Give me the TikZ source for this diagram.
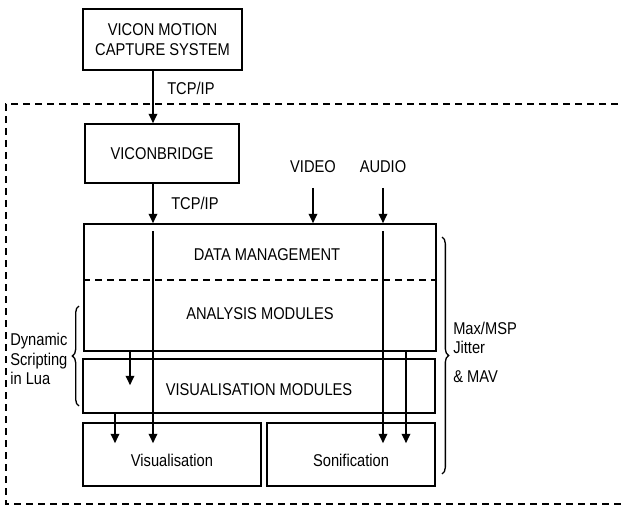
\documentclass[tikz,border=0pt]{standalone}
\usepackage{fontspec}
\setmainfont{Liberation Sans}[FakeStretch=0.86]
\usetikzlibrary{calc,arrows.meta,positioning,decorations.pathreplacing}

\tikzset{
  box/.style={draw,line width=1.3pt,inner sep=0pt,align=center},
  arr/.style={-{Triangle[length=7pt,width=6.5pt]},line width=1pt},
  txt/.style={inner sep=0pt,align=left},
  brc/.style={decorate,decoration={brace,amplitude=5pt},line width=1pt},
  dashline/.style={line width=1pt,dash pattern=on 5.5pt off 3.5pt},
}

\begin{document}
\begin{tikzpicture}[x=0.75pt,y=-0.75pt,font=\fontsize{12.8}{14.5}\selectfont]
    \useasboundingbox (0,0) rectangle (621,506);
    % outer (Max/MSP) frame, open to the right
    \draw[dashline] (630,104) -- (6,104) -- (6,504) -- (630,504);
    % boxes
    \node[box,minimum width=159*0.75pt,minimum height=61*0.75pt] (vicon) at (162.5,39.5)
       {VICON MOTION\\CAPTURE SYSTEM};
    \node[box,minimum width=154*0.75pt,minimum height=59*0.75pt] (bridge) at (162,153.5) {VICONBRIDGE};
    \node[box,minimum width=352*0.75pt,minimum height=127*0.75pt] (data) at (260,287.5) {};
    \node[box,minimum width=352*0.75pt,minimum height=54*0.75pt] (vismod) at (259,386) {};
    \node[box,minimum width=178*0.75pt,minimum height=63*0.75pt] (visual) at (172,454.5) {};
    \node[box,minimum width=168*0.75pt,minimum height=63*0.75pt] (sonif) at (351,454.5) {};
    \draw[dashline] (data.west |- 0,280) -- (data.east |- 0,280);
    % box texts
    \node (datatxt) at (267,255) {DATA MANAGEMENT};
    \node (anatxt) at (260,314) {ANALYSIS MODULES};
    \node (vismodtxt) at (259,390) {VISUALISATION MODULES};
    \node (visualtxt) at (172,460) {Visualisation};
    \node (soniftxt) at (351,460) {Sonification};
    % inputs
    \node (video) at (313,167) {VIDEO};
    \node (audio) at (383,167) {AUDIO};
    \node[txt,anchor=west] (tcp1) at (167,88) {TCP/IP};
    \node[txt,anchor=west] (tcp2) at (171,203) {TCP/IP};
    % x positions of the connectors
    \coordinate (tcpx) at (153,0);
    \coordinate (vidx) at (313,0);
    \coordinate (audx) at (383,0);
    \coordinate (anax) at (130,0);
    \coordinate (visx) at (115,0);
    \coordinate (sonx) at (406,0);
    \draw[arr] (vicon.south -| tcpx) -- (bridge.north -| tcpx);
    \draw[arr] (bridge.south -| tcpx) -- (data.north -| tcpx);
    \draw[arr] ($(video.south)+(0,10)$) -- (data.north -| vidx);
    \draw[arr] ($(audio.south)+(0,10)$) -- (data.north -| audx);
    \draw[arr] ($(data.north -| tcpx)+(0,8)$) -- ($(visual.north -| tcpx)+(0,21)$);
    \draw[arr] ($(data.north -| audx)+(0,8)$) -- ($(sonif.north -| audx)+(0,21)$);
    \draw[arr] (data.south -| anax) -- ($(vismod.north -| anax)+(0,27)$);
    \draw[arr] (vismod.south -| visx) -- ($(visual.north -| visx)+(0,21)$);
    \draw[arr] (data.south -| sonx) -- ($(sonif.north -| sonx)+(0,21)$);
    % braces
    \coordinate (rbtop) at (442,237);
    \coordinate (rbbot) at (442,474);
    \draw[brc] (rbtop) -- (rbbot);
    \node[txt,anchor=west] (maxtxt) at (453,352) {Max/MSP\\Jitter\\[7pt]\& MAV};
    \coordinate (lbtop) at (79,306);
    \coordinate (lbbot) at (79,406);
    \draw[brc] (lbbot) -- (lbtop);
    \node[txt,anchor=west] (luatxt) at (10,359) {Dynamic\\Scripting\\in Lua};
\end{tikzpicture}
\end{document}
